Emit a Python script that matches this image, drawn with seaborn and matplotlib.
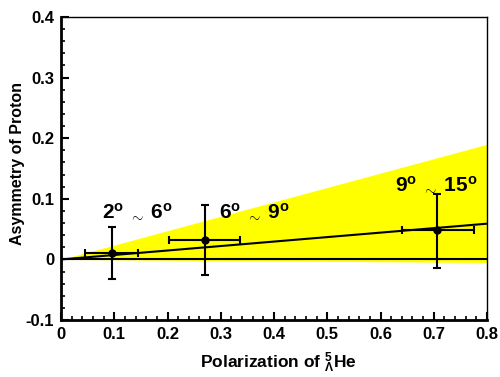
import matplotlib
matplotlib.use("Agg")
import matplotlib.pyplot as plt
import matplotlib.ticker as mticker
import seaborn as sns

# measured points (polarization, asymmetry) per angle bin
pol       = [0.095, 0.271, 0.707]
pol_lo    = [0.045, 0.203, 0.640]
pol_hi    = [0.145, 0.337, 0.776]
asym      = [0.011, 0.032, 0.048]
asym_lo   = [-0.032, -0.026, -0.014]
asym_hi   = [0.054, 0.090, 0.108]
bin_names = ["2", "6", "9"]
bin_ends  = ["6", "9", "15"]
label_x   = [0.077, 0.297, 0.628]
label_y   = [0.070, 0.070, 0.113]

# allowed band and linear fit
band_x  = [0.0, 0.8]
band_hi = [0.0, 0.190]
band_lo = [0.0, -0.005]
fit_x   = [0.0, 0.8]
fit_y   = [0.0, 0.059]

x_ticks  = [0, 0.1, 0.2, 0.3, 0.4, 0.5, 0.6, 0.7, 0.8]
x_labels = ["0", "0.1", "0.2", "0.3", "0.4", "0.5", "0.6", "0.7", "0.8"]
y_ticks  = [-0.1, 0, 0.1, 0.2, 0.3, 0.4]
y_labels = ["-0.1", "0", "0.1", "0.2", "0.3", "0.4"]

sns.set_style("ticks")
plt.rcParams["font.family"] = ["Liberation Sans", "DejaVu Sans"]
plt.rcParams["font.weight"] = "bold"
plt.rcParams["text.color"] = "black"
plt.rcParams["axes.labelcolor"] = "black"
plt.rcParams["xtick.color"] = "black"
plt.rcParams["ytick.color"] = "black"
plt.rcParams["axes.edgecolor"] = "black"
plt.rcParams["mathtext.fontset"] = "custom"
plt.rcParams["mathtext.rm"] = "Liberation Sans:bold"
plt.rcParams["mathtext.bf"] = "Liberation Sans:bold"
plt.rcParams["mathtext.it"] = "Liberation Sans:bold"

fig, ax = plt.subplots(figsize=(5, 3.77), dpi=100)
fig.subplots_adjust(left=0.122, right=0.974, bottom=0.151, top=0.955)

ax.fill_between(band_x, band_lo, band_hi, color="#ffff00", linewidth=0, zorder=1)
ax.axhline(0, color="black", linewidth=1.5, zorder=2)
sns.lineplot(x=fit_x, y=fit_y, color="black", linewidth=1.5, ax=ax, zorder=3)

xerr = [[p - l for p, l in zip(pol, pol_lo)], [h - p for p, h in zip(pol, pol_hi)]]
yerr = [[a - l for a, l in zip(asym, asym_lo)], [h - a for a, h in zip(asym, asym_hi)]]
ax.errorbar(pol, asym, xerr=xerr, yerr=yerr, fmt="o", color="black",
            markersize=5, elinewidth=1.5, capsize=3, capthick=1.5, zorder=4)

for name, end, lx, ly in zip(bin_names, bin_ends, label_x, label_y):
    ax.text(lx, ly, rf"$\mathbf{{{name}^o}}\;_{{\sim}}\;\mathbf{{{end}^o}}$",
            fontsize=15, color="black", zorder=5)

ax.set_xlim(0, 0.8)
ax.set_ylim(-0.1, 0.4)
ax.set_xticks(x_ticks, labels=x_labels, fontweight="bold", fontsize=12)
ax.set_yticks(y_ticks, labels=y_labels, fontweight="bold", fontsize=12)
ax.xaxis.set_minor_locator(mticker.MultipleLocator(0.02))
ax.yaxis.set_minor_locator(mticker.MultipleLocator(0.02))
ax.tick_params(which="major", direction="in", length=6, width=1.5, pad=5)
ax.tick_params(which="minor", direction="in", length=3, width=1.2)

for side in ["left", "bottom"]:
    ax.spines[side].set_linewidth(2)
for side in ["top", "right"]:
    ax.spines[side].set_visible(True)
    ax.spines[side].set_linewidth(1)

ax.set_xlabel(r"Polarization of $_{\Lambda}^{5}$He", fontsize=12.5, fontweight="bold")
ax.xaxis.set_label_coords(0.51, -0.157)
ax.xaxis.label.set_va("baseline")
ax.set_ylabel("Asymmetry of Proton", fontsize=11.5, fontweight="bold")
ax.yaxis.set_label_coords(-0.085, 0.515)

plt.savefig("out.png", dpi=100)
plt.close()
